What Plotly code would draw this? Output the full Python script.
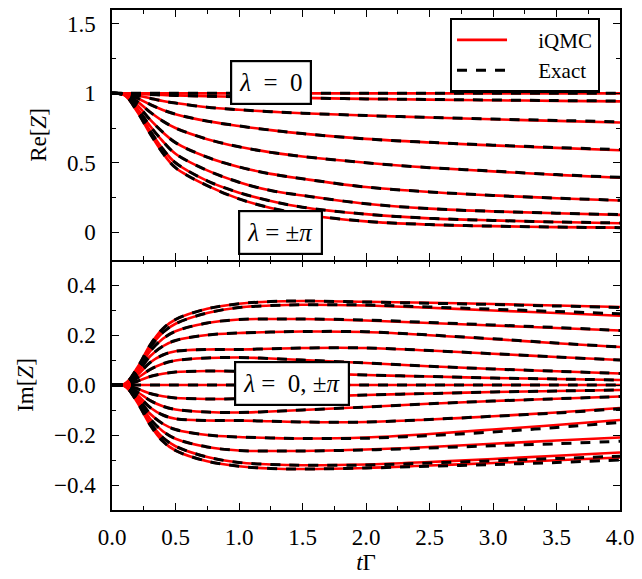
import plotly.graph_objects as go
from plotly.subplots import make_subplots

# time grid (in units of 1/Gamma)
t = [0, 0.1, 0.2, 0.3, 0.4, 0.5, 0.75, 1.0, 1.25, 1.5, 2.0, 2.5, 3.0, 3.5, 4.0]

# Re[Z] for lambda = 0, pi/8, ..., pi  (exact)
re_exact = [
    [1, 1, 1, 1, 1, 1, 1, 1, 1, 1, 1, 1, 1, 1, 1],
    [1, 0.999, 0.996, 0.992, 0.988, 0.985, 0.979, 0.975, 0.971, 0.967, 0.960, 0.956, 0.952, 0.948, 0.945],
    [1, 0.997, 0.985, 0.965, 0.945, 0.930, 0.900, 0.882, 0.868, 0.857, 0.840, 0.827, 0.815, 0.805, 0.795],
    [1, 0.995, 0.965, 0.920, 0.880, 0.850, 0.800, 0.765, 0.735, 0.710, 0.672, 0.647, 0.627, 0.610, 0.595],
    [1, 0.993, 0.940, 0.865, 0.800, 0.750, 0.670, 0.615, 0.575, 0.545, 0.500, 0.465, 0.440, 0.415, 0.395],
    [1, 0.990, 0.915, 0.810, 0.720, 0.645, 0.540, 0.470, 0.420, 0.385, 0.325, 0.290, 0.265, 0.245, 0.230],
    [1, 0.988, 0.890, 0.765, 0.655, 0.565, 0.445, 0.360, 0.300, 0.265, 0.205, 0.170, 0.150, 0.137, 0.127],
    [1, 0.987, 0.875, 0.730, 0.600, 0.500, 0.370, 0.285, 0.225, 0.180, 0.130, 0.100, 0.085, 0.074, 0.067],
    [1, 0.986, 0.865, 0.710, 0.570, 0.465, 0.335, 0.240, 0.175, 0.130, 0.078, 0.055, 0.044, 0.037, 0.033],
]
# Re[Z] from iQMC
re_iqmc = [
    [1, 1, 1, 1, 1, 1, 1, 1, 1, 1, 1, 1, 1, 1, 1],
    [1, 0.999, 0.996, 0.992, 0.988, 0.985, 0.979, 0.975, 0.971, 0.967, 0.960, 0.955, 0.950, 0.946, 0.942],
    [1, 0.997, 0.985, 0.965, 0.945, 0.930, 0.900, 0.882, 0.868, 0.857, 0.840, 0.826, 0.813, 0.802, 0.790],
    [1, 0.995, 0.965, 0.920, 0.880, 0.850, 0.800, 0.765, 0.735, 0.710, 0.672, 0.646, 0.625, 0.607, 0.590],
    [1, 0.993, 0.940, 0.865, 0.800, 0.750, 0.670, 0.615, 0.575, 0.545, 0.500, 0.465, 0.438, 0.413, 0.392],
    [1, 0.990, 0.915, 0.810, 0.720, 0.645, 0.540, 0.470, 0.420, 0.385, 0.325, 0.290, 0.265, 0.245, 0.228],
    [1, 0.988, 0.890, 0.765, 0.655, 0.565, 0.445, 0.360, 0.300, 0.265, 0.205, 0.170, 0.150, 0.137, 0.125],
    [1, 0.987, 0.875, 0.730, 0.600, 0.500, 0.370, 0.285, 0.225, 0.180, 0.130, 0.100, 0.085, 0.074, 0.065],
    [1, 0.986, 0.865, 0.710, 0.570, 0.465, 0.335, 0.240, 0.175, 0.130, 0.078, 0.055, 0.044, 0.037, 0.033],
]

# Im[Z] (exact): upper branch, zero line, lower branch
im_exact = [
    [0, 0.004, 0.070, 0.160, 0.225, 0.262, 0.305, 0.325, 0.334, 0.336, 0.332, 0.327, 0.322, 0.316, 0.310],
    [0, 0.004, 0.065, 0.150, 0.210, 0.245, 0.288, 0.310, 0.318, 0.321, 0.320, 0.312, 0.303, 0.294, 0.285],
    [0, 0.003, 0.058, 0.135, 0.185, 0.215, 0.248, 0.262, 0.264, 0.264, 0.260, 0.250, 0.240, 0.230, 0.218],
    [0, 0.003, 0.050, 0.115, 0.155, 0.178, 0.200, 0.208, 0.212, 0.214, 0.213, 0.200, 0.185, 0.168, 0.152],
    [0, 0.002, 0.040, 0.090, 0.120, 0.135, 0.142, 0.142, 0.145, 0.148, 0.148, 0.138, 0.125, 0.112, 0.100],
    [0, 0.002, 0.028, 0.062, 0.085, 0.098, 0.108, 0.110, 0.106, 0.100, 0.088, 0.075, 0.064, 0.055, 0.046],
    [0, 0.001, 0.015, 0.034, 0.045, 0.052, 0.056, 0.055, 0.052, 0.048, 0.040, 0.034, 0.028, 0.024, 0.020],
    [0, 0, 0, 0, 0, 0, 0, 0, 0, 0, 0, 0, 0, 0, 0],
    [0, -0.001, -0.015, -0.034, -0.045, -0.052, -0.056, -0.055, -0.052, -0.048, -0.040, -0.034, -0.028, -0.024, -0.020],
    [0, -0.002, -0.028, -0.062, -0.085, -0.098, -0.108, -0.110, -0.106, -0.100, -0.088, -0.075, -0.064, -0.055, -0.046],
    [0, -0.002, -0.040, -0.090, -0.120, -0.135, -0.142, -0.142, -0.145, -0.148, -0.148, -0.138, -0.125, -0.112, -0.095],
    [0, -0.003, -0.050, -0.115, -0.155, -0.178, -0.200, -0.208, -0.212, -0.214, -0.213, -0.202, -0.188, -0.170, -0.150],
    [0, -0.003, -0.058, -0.135, -0.185, -0.215, -0.248, -0.262, -0.264, -0.264, -0.260, -0.252, -0.243, -0.235, -0.225],
    [0, -0.004, -0.065, -0.150, -0.210, -0.245, -0.288, -0.310, -0.318, -0.321, -0.320, -0.312, -0.303, -0.294, -0.285],
    [0, -0.004, -0.070, -0.160, -0.225, -0.262, -0.305, -0.325, -0.334, -0.336, -0.332, -0.325, -0.318, -0.310, -0.300],
]
# Im[Z] from iQMC
im_iqmc = [
    [0, 0.004, 0.070, 0.160, 0.225, 0.262, 0.305, 0.325, 0.334, 0.336, 0.333, 0.329, 0.324, 0.318, 0.312],
    [0, 0.004, 0.065, 0.150, 0.210, 0.245, 0.288, 0.310, 0.318, 0.321, 0.318, 0.309, 0.298, 0.288, 0.277],
    [0, 0.003, 0.058, 0.135, 0.185, 0.215, 0.248, 0.262, 0.264, 0.264, 0.258, 0.248, 0.238, 0.228, 0.218],
    [0, 0.003, 0.050, 0.115, 0.155, 0.178, 0.200, 0.208, 0.212, 0.214, 0.212, 0.199, 0.184, 0.167, 0.152],
    [0, 0.002, 0.040, 0.090, 0.120, 0.135, 0.142, 0.142, 0.145, 0.148, 0.148, 0.138, 0.125, 0.112, 0.100],
    [0, 0.002, 0.028, 0.062, 0.085, 0.098, 0.108, 0.110, 0.106, 0.100, 0.088, 0.075, 0.064, 0.055, 0.046],
    [0, 0.001, 0.015, 0.034, 0.045, 0.052, 0.056, 0.055, 0.052, 0.048, 0.040, 0.034, 0.028, 0.024, 0.020],
    [0, 0, 0, 0, 0, 0, 0, 0, 0, 0, 0, 0, 0, 0, 0],
    [0, -0.001, -0.015, -0.034, -0.045, -0.052, -0.056, -0.055, -0.052, -0.048, -0.040, -0.034, -0.028, -0.024, -0.020],
    [0, -0.002, -0.028, -0.062, -0.085, -0.098, -0.108, -0.110, -0.106, -0.100, -0.088, -0.075, -0.064, -0.055, -0.046],
    [0, -0.002, -0.040, -0.090, -0.120, -0.135, -0.142, -0.142, -0.145, -0.148, -0.148, -0.138, -0.125, -0.110, -0.092],
    [0, -0.003, -0.050, -0.115, -0.155, -0.178, -0.200, -0.208, -0.212, -0.214, -0.210, -0.196, -0.178, -0.160, -0.140],
    [0, -0.003, -0.058, -0.135, -0.185, -0.215, -0.248, -0.262, -0.264, -0.264, -0.258, -0.248, -0.235, -0.222, -0.210],
    [0, -0.004, -0.065, -0.150, -0.210, -0.245, -0.288, -0.310, -0.318, -0.321, -0.318, -0.308, -0.296, -0.283, -0.270],
    [0, -0.004, -0.070, -0.160, -0.225, -0.262, -0.305, -0.325, -0.334, -0.336, -0.332, -0.322, -0.312, -0.301, -0.290],
]

RED = "#ff0000"
FONT = "Liberation Serif, DejaVu Serif, serif"
TICK_SIZE = 23
TITLE_SIZE = 23
NBSP = "\u00a0"

fig = make_subplots(rows=2, cols=1, shared_xaxes=True, vertical_spacing=0)

def add_set(iqmc, exact, row, legend):
    for i, y in enumerate(iqmc):
        fig.add_trace(go.Scatter(
            x=t, y=y, mode="lines", name=NBSP * 5 + "iQMC",
            line=dict(color=RED, width=2.6, shape="spline", smoothing=1.0),
            showlegend=(legend and i == 0), legendrank=1,
        ), row=row, col=1)
    for i, y in enumerate(exact):
        fig.add_trace(go.Scatter(
            x=t, y=y, mode="lines", name=NBSP * 5 + "Exact",
            line=dict(color="black", width=3, dash="10px,9px", shape="spline", smoothing=1.0),
            showlegend=(legend and i == 0), legendrank=2,
        ), row=row, col=1)

add_set(re_iqmc, re_exact, 1, True)
add_set(im_iqmc, im_exact, 2, False)

tick_style = dict(ticks="inside", ticklen=7, tickwidth=1.3, tickcolor="black")
minor_style = dict(ticks="inside", ticklen=4, tickwidth=1.1, tickcolor="black")
axis_common = dict(
    showline=True, linecolor="black", linewidth=1.5,
    showgrid=False, zeroline=False,
    tickfont=dict(family=FONT, size=TICK_SIZE, color="black"),
    **tick_style,
)

# shared time axis: top panel axis carries the divider and the top frame,
# bottom panel axis carries the tick labels
fig.update_xaxes(**axis_common, range=[0, 4], dtick=0.5, tickformat=".1f",
                 minor=dict(**minor_style, dtick=0.25))
fig.update_xaxes(mirror="ticks", showticklabels=False, row=1, col=1)
fig.update_xaxes(mirror=False, ticklabelstandoff=6,
                 title=dict(text="<i>t</i>Γ", font=dict(family=FONT, size=TITLE_SIZE, color="black"),
                            standoff=1),
                 row=2, col=1)

# ticks hanging down from the divider into the lower panel
fig.update_layout(xaxis3=dict(
    overlaying="x2", anchor="y2", side="top", range=[0, 4], dtick=0.5,
    showline=False, showgrid=False, zeroline=False, showticklabels=False,
    minor=dict(**minor_style, dtick=0.25), **tick_style,
))
fig.add_trace(go.Scatter(x=[0, 4], y=[0, 0], xaxis="x3", yaxis="y2", mode="lines",
                         line=dict(width=0), showlegend=False, hoverinfo="skip"))

fig.update_yaxes(**axis_common, mirror="ticks", ticklabelstandoff=10)
fig.update_yaxes(range=[-0.2, 1.6], tickvals=[0, 0.5, 1, 1.5], ticktext=["0", "0.5", "1", "1.5"],
                 minor=dict(**minor_style, tickvals=[-0.25, 0.25, 0.75, 1.25]),
                 title=dict(text="Re[<i>Z</i>]", font=dict(family=FONT, size=TITLE_SIZE, color="black"),
                            standoff=14),
                 row=1, col=1)
fig.update_yaxes(range=[-0.5, 0.5], tickvals=[-0.4, -0.2, 0, 0.2, 0.4], tickformat=".1f",
                 minor=dict(**minor_style, tickvals=[-0.3, -0.1, 0.1, 0.3]),
                 title=dict(text="Im[<i>Z</i>]", font=dict(family=FONT, size=TITLE_SIZE, color="black"),
                            standoff=14),
                 row=2, col=1)

box = dict(showarrow=False, bgcolor="white", bordercolor="black", borderwidth=2.2, borderpad=7,
           font=dict(family=FONT, size=25, color="black"))
EQ = NBSP * 2 + "=" + NBSP * 2
fig.add_annotation(x=1.255, y=1.08, xref="x", yref="y", text="<i>λ</i>" + EQ + "0", **box)
fig.add_annotation(x=1.325, y=0.0, xref="x", yref="y", text="<i>λ</i> = ±<i>π</i>", **box)
fig.add_annotation(x=1.42, y=0.005, xref="x2", yref="y2",
                   text="<i>λ</i>" + NBSP + "=" + NBSP + " 0, ±<i>π</i>", **box)

fig.update_layout(
    width=642, height=579,
    margin=dict(l=112, r=16, t=8, b=69),
    paper_bgcolor="white", plot_bgcolor="white",
    font=dict(family=FONT, size=TICK_SIZE, color="black"),
    legend=dict(x=0.665, y=0.985, xanchor="left", yanchor="top",
                bgcolor="white", bordercolor="black", borderwidth=2.2,
                font=dict(family=FONT, size=21, color="black"),
                tracegroupgap=0, itemwidth=50),
)

fig.write_html("out.html")
